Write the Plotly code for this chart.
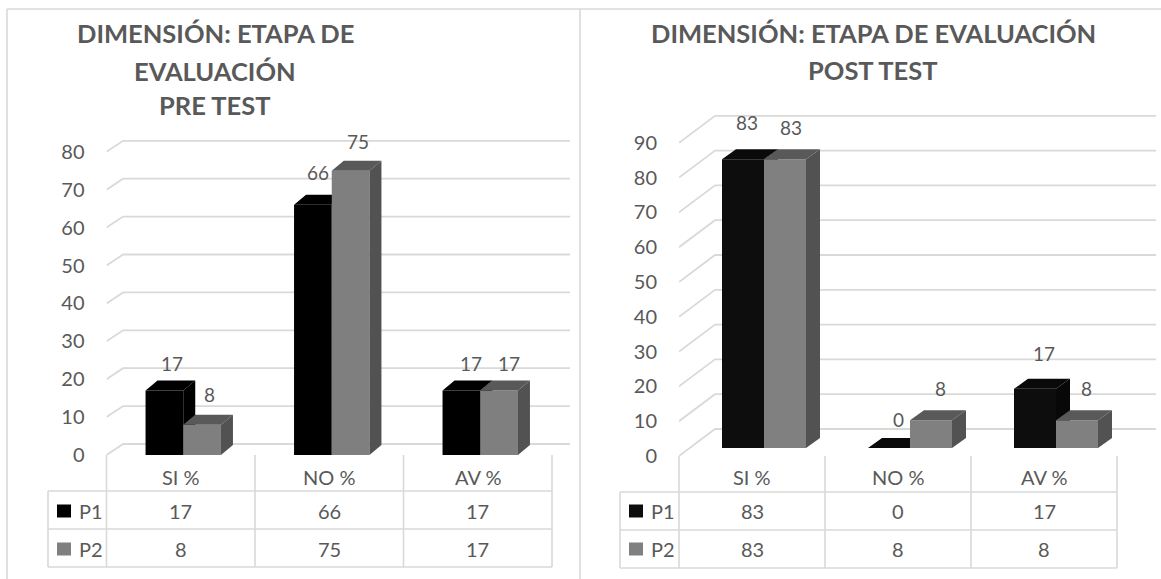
import plotly.graph_objects as go

W, H = 1161, 579
FONT = "Lato"
TEXT = "#595959"
LINE = "#d9d9d9"

categories = ["SI %", "NO %", "AV %"]
series_names = ["P1", "P2"]

pre_p1 = [17, 66, 17]
pre_p2 = [8, 75, 17]
pre_ticks = [0, 10, 20, 30, 40, 50, 60, 70, 80]
pre_title = ["DIMENSIÓN: ETAPA DE", "EVALUACIÓN", "PRE TEST"]

post_p1 = [83, 0, 17]
post_p2 = [83, 8, 8]
post_ticks = [0, 10, 20, 30, 40, 50, 60, 70, 80, 90]
post_title = ["DIMENSIÓN: ETAPA DE EVALUACIÓN", "POST TEST"]


def px(x):
    return x / W


def py(y):
    return 1 - y / H


fig = go.Figure()
shapes = []
annotations = []
layout_axes = {}


def seg(x0, y0, x1, y1, color=LINE, width=1.6):
    shapes.append(dict(type="line", xref="paper", yref="paper", layer="below",
                       x0=px(x0), y0=py(y0), x1=px(x1), y1=py(y1),
                       line=dict(color=color, width=width)))


def text(x, y, s, size=18, bold=False, align="center"):
    annotations.append(dict(xref="paper", yref="paper", x=px(x), y=py(y), text=f"<b>{s}</b>" if bold else s,
                            showarrow=False, xanchor=align, yanchor="middle",
                            font=dict(family=FONT, size=size, color=TEXT)))


def panel(ids, g, p1, p2, ticks, title):
    (mx, ox1, ox2) = ids
    x0, xend, ux, top = g["x0"], g["xend"], g["ux"], g["top"]
    y0, s = g["y0"], g["scale"]
    dom_x = [px(x0), px(xend)]
    dom_y = [py(y0), py(top)]
    x_range = [0, (xend - x0) / ux]
    y_range = [0, (y0 - top) / s]

    layout_axes[f"xaxis{mx}"] = dict(domain=dom_x, range=x_range, anchor=f"y{mx}", visible=False, automargin=False)
    layout_axes[f"yaxis{mx}"] = dict(domain=dom_y, range=y_range, anchor=f"x{mx}", tickmode="array",
                                     tickvals=ticks, ticktext=[str(t) for t in ticks], ticks="outside",
                                     ticklen=g["ticklen"], tickcolor="rgba(0,0,0,0)", showgrid=False,
                                     zeroline=False, showline=False, automargin=False,
                                     tickfont=dict(family=FONT, size=g["tick_size"], color=TEXT))

    # back wall and its gridlines, reached from the tick values
    wdx, wdy = g["wall_dx"] / ux, g["wall_dy"] / s
    gx, gy = [], []
    for t in ticks:
        gx += [0, wdx, x_range[1], None]
        gy += [t, t + wdy, t + wdy, None]
    fig.add_trace(go.Scatter(x=gx, y=gy, mode="lines", xaxis=f"x{mx}", yaxis=f"y{mx}", cliponaxis=False,
                             line=dict(color=LINE, width=1.8), hoverinfo="skip", showlegend=False))

    # bars: P1 on the first overlay, P2 on the second, so P2 covers P1's side face
    bw = g["bar_w"] / ux
    bdx, bdy = g["bar_dx"] / ux, g["bar_dy"] / s
    xshift_range = [-g["bar_shift"] / ux, x_range[1] - g["bar_shift"] / ux]
    ybase_range = [(g["bar_base"] - y0) / s, (g["bar_base"] - top) / s]
    centers = [i + 0.5 for i in range(len(categories))]
    for k, (ax, vals, colors, labs) in enumerate(zip((ox1, ox2), (p1, p2), g["colors"], g["labels"])):
        layout_axes[f"xaxis{ax}"] = dict(overlaying=f"x{mx}", range=xshift_range, anchor=f"y{ax}", visible=False,
                                         automargin=False)
        layout_axes[f"yaxis{ax}"] = dict(overlaying=f"y{mx}", range=ybase_range, anchor=f"x{ax}", visible=False,
                                         automargin=False)
        offset = -bw if k == 0 else 0
        fig.add_trace(go.Bar(x=centers, y=vals, width=bw, offset=offset, name=series_names[k],
                             xaxis=f"x{ax}", yaxis=f"y{ax}", marker=dict(color=colors[0], line=dict(width=0)),
                             showlegend=False, hoverinfo="skip"))
        sx, sy, tx, ty = [], [], [], []
        for c, v in zip(centers, vals):
            a, b = c + offset, c + offset + bw
            sx += [b, b + bdx, b + bdx, b, b, None]
            sy += [0, bdy, v + bdy, v, 0, None]
            tx += [a, a + bdx, b + bdx, b, a, None]
            ty += [v, v + bdy, v + bdy, v, v, None]
        for fx, fy, col in ((sx, sy, colors[1]), (tx, ty, colors[2])):
            fig.add_trace(go.Scatter(x=fx, y=fy, mode="lines", fill="toself", fillcolor=col,
                                     line=dict(width=0, color=col), xaxis=f"x{ax}", yaxis=f"y{ax}",
                                     hoverinfo="skip", showlegend=False))
        for c, v, (lx, ly) in zip(centers, vals, labs):
            annotations.append(dict(xref=f"x{ax}", yref=f"y{ax}", x=c + offset + bw / 2, y=v, text=str(v),
                                    showarrow=False, xshift=lx, yshift=ly, xanchor="center", yanchor="middle",
                                    font=dict(family=FONT, size=g["label_size"], color=TEXT)))

    # data table
    n = len(categories)
    xs = [x0 + ux * i for i in range(n + 1)]
    rows = g["rows"]
    for xv in xs:
        seg(xv, y0, xv, rows[2])
    seg(g["tbl_left"], rows[0], g["tbl_left"], rows[2])
    for r in rows:
        seg(g["tbl_left"], r, xs[-1], r)
    for i, cat in enumerate(categories):
        cx = xs[i] + ux / 2
        text(cx, g["cat_y"], cat, size=g["cat_size"])
        text(cx, g["row_y"][0], str(p1[i]), size=g["cell_size"])
        text(cx, g["row_y"][1], str(p2[i]), size=g["cell_size"])
    for k, name in enumerate(series_names):
        yc = g["row_y"][k]
        shapes.append(dict(type="rect", xref="paper", yref="paper", x0=px(g["sw_x"]), x1=px(g["sw_x"] + 14),
                           y0=py(yc - 6.5), y1=py(yc + 6.5), fillcolor=g["colors"][k][0], line=dict(width=0)))
        text(g["sw_x"] + 20, yc, name, size=g["cell_size"], align="left")

    for line, ly in zip(title, g["title_y"]):
        text(g["title_x"], ly, line, size=g["title_size"], bold=True)


left = dict(x0=106.5, xend=570, ux=148.5, top=120, y0=455, scale=3.79, wall_dx=16.6, wall_dy=2.9 * 3.79,
            bar_w=37.7, bar_dx=12, bar_dy=10, bar_shift=2.5, bar_base=455, ticklen=17, tick_size=20,
            label_size=19, cat_size=20, cell_size=20, title_size=25.5,
            colors=[("#000000", "#000000", "#000000"), ("#7f7f7f", "#525252", "#595959")],
            labels=[[(8, 27), (5, 32), (10, 27)], [(7, 30), (7, 29), (10, 27)]],
            rows=[491, 529, 567], row_y=[511, 549], cat_y=477, tbl_left=48, sw_x=57,
            title_x=215, title_y=[33, 71, 105])
right = dict(x0=679, xend=1156, ux=146, top=100, y0=456, scale=3.48, wall_dx=36, wall_dy=27,
             bar_w=42, bar_dx=14, bar_dy=10, bar_shift=12, bar_base=448, ticklen=17, tick_size=20,
             label_size=19, cat_size=20, cell_size=20, title_size=25.5,
             colors=[("#0d0d0d", "#080808", "#0a0a0a"), ("#808080", "#525252", "#595959")],
             labels=[[(4, 37), (9.5, 29), (8.5, 35)], [(5.5, 32), (9, 32), (9.5, 32)]],
             rows=[492, 530, 568], row_y=[511, 549], cat_y=477, tbl_left=620, sw_x=629,
             title_x=873, title_y=[33, 70])

panel((1, 2, 3), left, pre_p1, pre_p2, pre_ticks, pre_title)
panel((4, 5, 6), right, post_p1, post_p2, post_ticks, post_title)

# outer frame of the two pictures
seg(7, 9, W, 9)
seg(7, 9, 7, H)
seg(580, 9, 580, H)

fig.update_layout(width=W, height=H, margin=dict(l=0, r=0, t=0, b=0, pad=0), autosize=False,
                  template="none", paper_bgcolor="white", plot_bgcolor="white", showlegend=False,
                  shapes=shapes, annotations=annotations, **layout_axes)

fig.write_html("out.html", config=dict(displayModeBar=False),
               post_script="document.body.style.margin='0';document.body.style.overflow='hidden';")
